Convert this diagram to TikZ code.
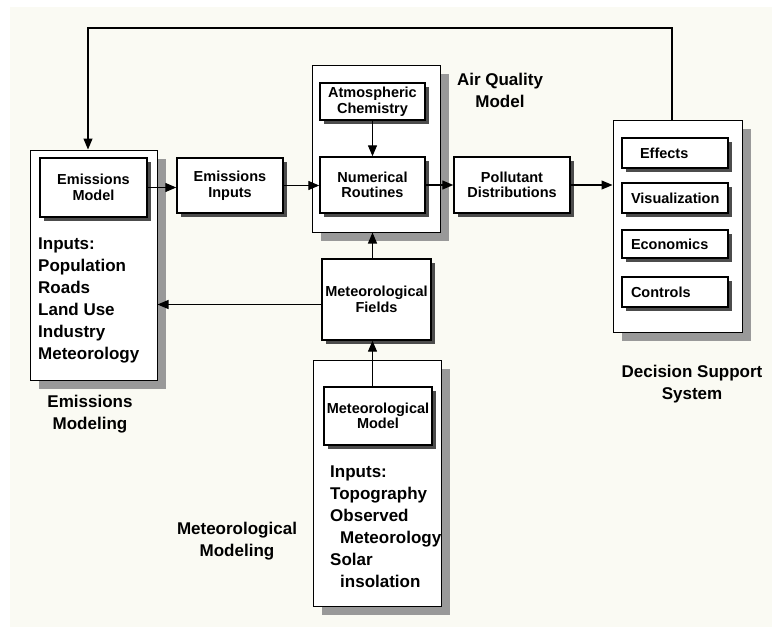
\documentclass[tikz,border=0pt]{standalone}
\usepackage{fontspec}
\setmainfont{Liberation Sans}
\usepackage{tikz}
\usetikzlibrary{arrows.meta,shadows,calc,backgrounds}

\definecolor{bgcream}{RGB}{250,250,243}

\tikzset{
  outerbox/.style={draw, line width=1pt, fill=white, inner sep=0pt,
    drop shadow={shadow xshift=9pt, shadow yshift=-9pt, fill=black!40, opacity=1}},
  innerbox/.style={draw, line width=1.4pt, fill=white, inner sep=0pt, align=center,
    font=\fontsize{14.5}{15.5}\selectfont\bfseries,
    drop shadow={shadow xshift=4pt, shadow yshift=-4pt, fill=black!70, opacity=1}},
  listbox/.style={innerbox, align=left, text width=88pt},
  bigtext/.style={align=left, inner sep=0pt, font=\fontsize{17}{22}\selectfont\bfseries},
  caption/.style={align=center, inner sep=0pt, font=\fontsize{17}{22}\selectfont\bfseries},
  arr/.style={-{Triangle[length=11pt,width=9pt]}, line width=1.2pt}
}

\begin{document}
\begin{tikzpicture}[x=1pt,y=1pt,yscale=-1,xscale=1]
\useasboundingbox (0,0) rectangle (772,627);
%background
\fill[bgcream] (10,7) rectangle (772,627);

%Shape: Rectangle [emissions modeling]
\node[outerbox, minimum width=127pt, minimum height=230pt] (emout) at (93.5,265) {};
\node[innerbox, minimum width=107pt, minimum height=59pt] (emmod) at (93.5,187.5) {Emissions\\Model};
% Text Node
\node[bigtext, anchor=north west] (eminlist) at (38,238) {Inputs:\\Population\\Roads\\Land Use\\Industry\\Meteorology};
% Text Node
\node[caption] (emcap) at (90,414) {Emissions\\Modeling};

%Shape: Rectangle [emissions inputs]
\node[innerbox, minimum width=106pt, minimum height=55pt] (eminp) at (230,185.5) {Emissions\\Inputs};

%Shape: Rectangle [air quality model]
\node[outerbox, minimum width=128pt, minimum height=167pt] (aqm) at (376,148.5) {};
\node[innerbox, minimum width=105pt, minimum height=37pt] (atm) at (372.5,101.5) {Atmospheric\\Chemistry};
\node[innerbox, minimum width=105pt, minimum height=56pt] (numr) at (372.5,185) {Numerical\\Routines};
% Text Node
\node[caption] (aqmcap) at (500,90) {Air Quality\\Model};

%Shape: Rectangle [pollutant distributions]
\node[innerbox, minimum width=116pt, minimum height=56pt] (poll) at (512,185) {Pollutant\\Distributions};

%Shape: Rectangle [decision support system]
\node[outerbox, minimum width=129pt, minimum height=212pt] (dss) at (677.5,226) {};
\node[listbox, minimum width=106pt, minimum height=30pt] (eff) at (675,153) {\hspace*{9pt}Effects};
\node[listbox, minimum width=106pt, minimum height=30pt] (vis) at (675,198) {Visualization};
\node[listbox, minimum width=106pt, minimum height=28pt] (eco) at (675,244) {Economics};
\node[listbox, minimum width=106pt, minimum height=30pt] (ctl) at (675,292) {Controls};
% Text Node
\node[caption] (dsscap) at (692,384) {Decision Support\\System};

%Shape: Rectangle [meteorological fields]
\node[innerbox, minimum width=109pt, minimum height=81pt] (mf) at (376.5,299.5) {Meteorological\\Fields};

%Shape: Rectangle [meteorological modeling]
\node[outerbox, minimum width=128pt, minimum height=246pt] (mmout) at (377,483) {};
\node[innerbox, minimum width=108pt, minimum height=58pt] (metmod) at (378,416) {Meteorological\\Model};
% Text Node
\node[bigtext, anchor=north west] (mminlist) at (330,466) {Inputs:\\Topography\\Observed\\\hspace*{10pt}Meteorology\\Solar\\\hspace*{10pt}insolation};
% Text Node
\node[caption] (mmcap) at (237,541) {Meteorological\\Modeling};

%Straight Lines
\coordinate (fbright) at (672,28);
\coordinate (fbleft) at (88,28);
\coordinate (mfw) at ($(mf.west)+(0,5)$);
\draw[arr] (fbright |- dss.north) -- (fbright) -- (fbleft) -- (fbleft |- emout.north);
\draw[arr] (emmod.east) -- (emmod.east -| eminp.west);
\draw[arr] (eminp.east) -- (eminp.east -| numr.west);
\draw[arr] (atm.south) -- (numr.north);
\draw[arr] (numr.east) -- (numr.east -| poll.west);
\draw[arr] (poll.east) -- (poll.east -| dss.west);
\draw[arr] (mf.north -| atm.south) -- (aqm.south -| atm.south);
\draw[arr] (metmod.north -| atm.south) -- (mf.south -| atm.south);
\draw[arr] (mfw) -- (mfw -| emout.east);

\end{tikzpicture}
\end{document}
